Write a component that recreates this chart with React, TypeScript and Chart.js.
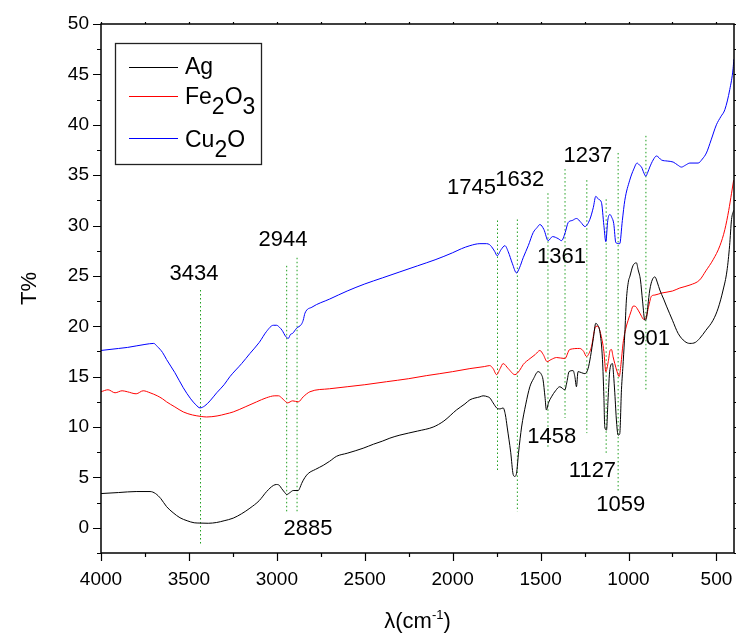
import { useEffect, useRef } from "react";
import { Chart, registerables } from "chart.js";

Chart.register(...registerables);

// FTIR spectra as [wavenumber (cm^-1), transmittance (%)]
const agSpectrum = [
  [4000, 3.4], [3900, 3.5], [3800, 3.6], [3721, 3.6], [3690, 3.4], [3660, 2.9], [3627, 2.1], [3590, 1.5],
  [3551, 1.0], [3510, 0.7], [3470, 0.5], [3437, 0.47], [3390, 0.45], [3342, 0.53], [3300, 0.7], [3248, 0.96],
  [3200, 1.4], [3153, 1.95], [3100, 2.7], [3058, 3.6], [3020, 4.2], [3001, 4.3], [2985, 4.2], [2973, 3.9],
  [2955, 3.5], [2944, 3.3], [2925, 3.5], [2907, 3.7], [2878, 3.7], [2868, 4.0], [2859, 4.4], [2840, 5.0],
  [2821, 5.4], [2780, 5.8], [2736, 6.2], [2700, 6.6], [2660, 7.1], [2600, 7.4], [2509, 7.9], [2450, 8.3],
  [2400, 8.6], [2357, 8.9], [2300, 9.2], [2200, 9.6], [2111, 10.0], [2050, 10.6], [1978, 11.7], [1930, 12.3],
  [1902, 12.7], [1845, 13.0], [1827, 13.1], [1800, 13.0], [1789, 12.9], [1770, 12.4], [1750, 11.9], [1730, 11.8],
  [1713, 11.9], [1700, 11.2], [1690, 10.0], [1670, 7.5], [1656, 5.3], [1647, 5.1], [1637, 5.4], [1625, 7.5],
  [1608, 10.0], [1585, 12.2], [1561, 14.0], [1540, 14.8], [1514, 15.5], [1495, 15.2], [1486, 14.7], [1475, 13.0],
  [1467, 11.7], [1455, 12.4], [1438, 13.0], [1415, 13.6], [1391, 14.0], [1362, 13.7], [1350, 14.5], [1338, 15.5],
  [1315, 15.6], [1305, 15.0], [1296, 14.0], [1287, 15.5], [1268, 15.4], [1248, 15.3], [1230, 15.8], [1216, 17.0],
  [1200, 18.8], [1186, 20.3], [1175, 20.1], [1163, 19.5], [1148, 16.7], [1140, 13.0], [1135, 10.0], [1125, 9.7],
  [1117, 12.5], [1106, 15.7], [1091, 16.3], [1085, 15.2], [1078, 13.4], [1068, 10.5], [1059, 9.2], [1050, 9.3],
  [1040, 13.7], [1030, 16.5], [1021, 19.3], [1012, 22.6], [1000, 24.5], [993, 24.9], [975, 26.0], [955, 26.3],
  [945, 25.6], [932, 24.6], [920, 22.5], [907, 20.6], [898, 20.8], [890, 22.0], [879, 23.6], [865, 24.6],
  [850, 24.9], [835, 24.3], [822, 23.6], [800, 22.7], [784, 22.0], [750, 20.6], [718, 19.3], [680, 18.5],
  [651, 18.3], [620, 18.4], [595, 18.8], [560, 19.6], [519, 20.6], [490, 21.8], [462, 23.6], [440, 25.5],
  [425, 28.0], [414, 30.6], [402, 31.5],
];

const fe2o3Spectrum = [
  [4000, 13.5], [3960, 13.7], [3920, 13.4], [3880, 13.6], [3850, 13.5], [3800, 13.3], [3760, 13.6], [3721, 13.4],
  [3680, 13.1], [3650, 12.8], [3627, 12.5], [3580, 12.0], [3532, 11.5], [3480, 11.2], [3430, 11.05], [3399, 11.0],
  [3340, 11.1], [3290, 11.3], [3248, 11.5], [3180, 12.0], [3115, 12.5], [3060, 12.9], [3011, 13.1], [2990, 13.1],
  [2973, 12.9], [2955, 12.6], [2939, 12.4], [2910, 12.6], [2878, 12.5], [2850, 13.0], [2812, 13.5], [2700, 13.8],
  [2600, 14.0], [2500, 14.2], [2376, 14.5], [2250, 14.8], [2150, 15.1], [2073, 15.3], [2000, 15.5], [1902, 15.8],
  [1820, 16.0], [1789, 16.1], [1770, 15.8], [1750, 15.2], [1730, 15.8], [1713, 16.3], [1684, 15.8], [1646, 15.2],
  [1620, 15.6], [1599, 16.2], [1560, 16.8], [1530, 17.2], [1504, 17.6], [1485, 17.2], [1463, 16.5], [1440, 16.7],
  [1409, 16.9], [1362, 16.8], [1334, 17.7], [1277, 17.8], [1255, 17.5], [1239, 17.0], [1225, 17.3], [1210, 18.0],
  [1195, 19.5], [1186, 20.0], [1175, 20.0], [1159, 19.3], [1140, 17.5], [1129, 15.5], [1115, 16.5], [1105, 17.6],
  [1097, 17.7], [1088, 17.0], [1078, 16.3], [1065, 15.5], [1053, 15.0], [1043, 16.2], [1031, 18.3], [1015, 19.8],
  [1002, 20.6], [985, 21.5], [974, 22.0], [964, 22.0], [945, 21.6], [926, 21.0], [915, 20.7], [902, 20.8],
  [885, 22.0], [869, 23.0], [850, 23.1], [812, 23.3], [750, 23.5], [708, 23.8], [650, 24.1], [595, 24.6],
  [560, 25.5], [519, 26.6], [480, 28.0], [452, 29.6], [430, 31.5], [414, 33.2], [402, 34.5],
];

const cu2oSpectrum = [
  [4000, 17.6], [3900, 17.8], [3850, 17.9], [3750, 18.2], [3700, 18.3], [3680, 18.0], [3650, 17.4], [3627, 16.7],
  [3580, 15.4], [3532, 13.9], [3490, 12.8], [3460, 12.2], [3437, 11.9], [3410, 12.1], [3380, 12.6], [3342, 13.4],
  [3300, 14.2], [3267, 15.0], [3200, 16.3], [3153, 17.3], [3100, 18.4], [3058, 19.5], [3020, 20.1], [3001, 20.1],
  [2985, 19.9], [2970, 19.6], [2950, 19.0], [2935, 18.8], [2922, 19.2], [2910, 19.3], [2888, 19.8], [2860, 20.2],
  [2850, 20.6], [2840, 21.3], [2800, 21.9], [2700, 22.7], [2600, 23.5], [2500, 24.2], [2400, 24.8], [2300, 25.4],
  [2200, 26.0], [2100, 26.6], [2000, 27.3], [1950, 27.7], [1902, 28.0], [1845, 28.2], [1807, 28.2], [1790, 28.1],
  [1779, 27.9], [1760, 27.4], [1747, 27.0], [1725, 27.6], [1703, 28.0], [1684, 27.4], [1660, 26.2], [1637, 25.3],
  [1620, 25.8], [1599, 26.8], [1570, 28.0], [1542, 29.3], [1520, 29.8], [1504, 30.1], [1481, 29.6], [1457, 28.5],
  [1432, 28.9], [1400, 28.7], [1381, 28.5], [1360, 29.3], [1343, 30.3], [1320, 30.5], [1296, 30.7], [1270, 30.3],
  [1248, 29.9], [1220, 30.6], [1200, 31.8], [1186, 32.9], [1170, 32.6], [1154, 32.3], [1140, 30.0], [1129, 28.4],
  [1118, 30.5], [1106, 31.1], [1095, 30.8], [1084, 30.2], [1072, 28.3], [1050, 28.2], [1035, 30.5], [1021, 32.5],
  [993, 34.5], [970, 35.6], [951, 36.2], [938, 36.0], [926, 35.8], [912, 35.2], [902, 34.9], [890, 35.3],
  [879, 35.8], [860, 36.5], [841, 36.9], [812, 36.5], [780, 36.4], [746, 36.3], [720, 36.0], [699, 35.8],
  [675, 36.0], [651, 36.2], [604, 36.2], [580, 36.6], [557, 37.2], [530, 38.5], [500, 40.0], [475, 40.8],
  [452, 41.5], [424, 43.5], [405, 45.6], [401, 46.5],
];

// Assigned bands
const peakLabels = ["3434", "2944", "2885", "1745", "1632", "1458", "1361", "1237", "1127", "1059", "901"];
const peakWavenumbers = [3434, 2944, 2885, 1745, 1632, 1458, 1361, 1237, 1127, 1059, 901];
// vertical extent of each marker line (T%)
const markerTop = [23.6, 26.0, 26.8, 30.5, 30.6, 33.2, 35.6, 34.5, 32.6, 37.2, 38.9];
const markerBottom = [-1.6, 1.5, 1.6, 5.5, 1.6, 8.0, 10.9, 9.4, 7.4, 3.5, 13.7];
// text anchor of each label (wavenumber, T%)
const labelX = [3471, 2965, 2823, 1893, 1618, 1436, 1381, 1231, 1205, 1044, 869];
const labelY = [25.2, 28.6, -0.1, 33.7, 34.5, 9.0, 26.9, 36.9, 5.6, 2.3, 18.75];

const seriesNames = ["Ag", "Fe2O3", "Cu2O"];
const seriesColors = ["#000000", "#ff0000", "#0000ff"];

const FONT = "'Liberation Sans', Arial, Helvetica, sans-serif";

const toPoints = (pairs: number[][]) => pairs.map(([x, y]) => ({ x, y }));

// split a formula such as Fe2O3 into plain / subscript runs
const formulaRuns = (s: string) => {
  const runs: { t: string; sub: boolean }[] = [];
  for (const ch of s) {
    const sub = /[0-9]/.test(ch);
    const last = runs[runs.length - 1];
    if (last && last.sub === sub) last.t += ch;
    else runs.push({ t: ch, sub });
  }
  return runs;
};

const framePlugin = {
  id: "frame",
  afterDraw(chart: any) {
    const { ctx, chartArea: a, scales } = chart;
    const x = scales.x;
    const y = scales.y;
    ctx.save();
    ctx.strokeStyle = "#000";
    ctx.lineWidth = 1.5;
    ctx.strokeRect(a.left, a.top, a.right - a.left, a.bottom - a.top);
    ctx.lineWidth = 1.2;
    ctx.beginPath();
    for (const t of x.ticks) {
      const px = Math.round(x.getPixelForValue(t.value)) + 0.5;
      const major = t.value % 500 === 0;
      ctx.moveTo(px, a.bottom);
      ctx.lineTo(px, a.bottom + (major ? 8 : 4));
      ctx.moveTo(px, a.top);
      ctx.lineTo(px, a.top - 2);
    }
    for (const t of y.ticks) {
      const py = Math.round(y.getPixelForValue(t.value)) + 0.5;
      const major = t.value % 5 === 0;
      ctx.moveTo(a.left, py);
      ctx.lineTo(a.left - (major ? 8 : 4), py);
      ctx.moveTo(a.right, py);
      ctx.lineTo(a.right + 2, py);
    }
    ctx.stroke();

    // axis titles
    ctx.fillStyle = "#000";
    ctx.font = `22px ${FONT}`;
    ctx.textAlign = "center";
    ctx.textBaseline = "middle";
    ctx.save();
    ctx.translate(30, (a.top + a.bottom) / 2);
    ctx.rotate(-Math.PI / 2);
    ctx.fillText("T%", 0, 0);
    ctx.restore();

    const cx = (a.left + a.right) / 2;
    const base = 628;
    ctx.textBaseline = "alphabetic";
    ctx.textAlign = "left";
    const main1 = "λ(cm";
    const sup = "-1";
    const main2 = ")";
    ctx.font = `22px ${FONT}`;
    const w1 = ctx.measureText(main1).width;
    const w3 = ctx.measureText(main2).width;
    ctx.font = `13px ${FONT}`;
    const w2 = ctx.measureText(sup).width;
    let sx = cx - (w1 + w2 + w3) / 2;
    ctx.font = `22px ${FONT}`;
    ctx.fillText(main1, sx, base);
    sx += w1;
    ctx.font = `13px ${FONT}`;
    ctx.fillText(sup, sx, base - 9);
    sx += w2;
    ctx.font = `22px ${FONT}`;
    ctx.fillText(main2, sx, base);
    ctx.restore();
  },
};

const peakLabelPlugin = {
  id: "peakLabels",
  afterDatasetsDraw(chart: any) {
    const { ctx, scales } = chart;
    ctx.save();
    ctx.fillStyle = "#000";
    ctx.font = `22px ${FONT}`;
    ctx.textAlign = "center";
    ctx.textBaseline = "middle";
    peakLabels.forEach((txt, i) => {
      ctx.fillText(txt, scales.x.getPixelForValue(labelX[i]), scales.y.getPixelForValue(labelY[i]));
    });
    ctx.restore();
  },
};

const legendPlugin = {
  id: "boxLegend",
  afterDraw(chart: any) {
    const { ctx } = chart;
    ctx.save();
    ctx.strokeStyle = "#222";
    ctx.lineWidth = 1.3;
    ctx.strokeRect(115.5, 43.5, 146, 121);
    const lineY = [67, 96, 138];
    const baseY = [74, 104, 147];
    seriesNames.forEach((name, i) => {
      ctx.strokeStyle = seriesColors[i];
      ctx.lineWidth = 1;
      ctx.beginPath();
      ctx.moveTo(129, lineY[i] + 0.5);
      ctx.lineTo(178, lineY[i] + 0.5);
      ctx.stroke();
      ctx.fillStyle = "#000";
      ctx.font = `23px ${FONT}`;
      ctx.textAlign = "left";
      ctx.textBaseline = "alphabetic";
      let x = 185;
      for (const r of formulaRuns(name)) {
        ctx.fillText(r.t, x, baseY[i] + (r.sub ? 10 : 0));
        x += ctx.measureText(r.t).width;
      }
    });
    ctx.restore();
  },
};

export default function App() {
  const canvasRef = useRef<HTMLCanvasElement | null>(null);

  useEffect(() => {
    const canvas = canvasRef.current;
    if (!canvas) return;

    const spectra = [agSpectrum, fe2o3Spectrum, cu2oSpectrum].map((s, i) => ({
      label: seriesNames[i],
      data: toPoints(s),
      borderColor: seriesColors[i],
      borderWidth: 1,
      pointRadius: 0,
      cubicInterpolationMode: "monotone",
      fill: false,
    }));

    const markers = peakWavenumbers.map((wn, i) => ({
      label: peakLabels[i],
      data: [
        { x: wn, y: markerTop[i] },
        { x: wn, y: markerBottom[i] },
      ],
      borderColor: "#1e9e1e",
      borderWidth: 1,
      borderDash: [1.5, 2.5],
      pointRadius: 0,
      fill: false,
    }));

    const chart = new Chart(canvas, {
      type: "line",
      data: { datasets: [...spectra, ...markers] as any },
      options: {
        animation: false,
        responsive: false,
        events: [],
        layout: { padding: { top: 24, right: 2, left: 0, bottom: 0 } },
        plugins: { legend: { display: false }, tooltip: { enabled: false } },
        scales: {
          x: {
            type: "linear",
            reverse: true,
            min: 400,
            max: 4000,
            border: { display: false },
            grid: { display: false, drawTicks: false },
            afterBuildTicks: (scale: any) => {
              const ticks = [];
              for (let v = 500; v <= 4000; v += 250) ticks.push({ value: v });
              scale.ticks = ticks;
            },
            afterFit: (scale: any) => {
              scale.height = 81;
            },
            ticks: {
              autoSkip: false,
              maxRotation: 0,
              padding: 15,
              color: "#000",
              font: { family: FONT, size: 19 },
              callback: (v: any) => (Number(v) % 500 === 0 ? String(v) : ""),
            },
          },
          y: {
            type: "linear",
            min: -2.5,
            max: 50,
            border: { display: false },
            grid: { display: false, drawTicks: false },
            afterBuildTicks: (scale: any) => {
              const ticks = [];
              for (let v = -2.5; v <= 50; v += 2.5) ticks.push({ value: v });
              scale.ticks = ticks;
            },
            afterFit: (scale: any) => {
              scale.width = 101;
            },
            ticks: {
              autoSkip: false,
              padding: 12,
              color: "#000",
              font: { family: FONT, size: 19 },
              callback: (v: any) => (Number(v) % 5 === 0 ? String(v) : ""),
            },
          },
        },
      },
      plugins: [framePlugin, peakLabelPlugin, legendPlugin],
    });

    return () => chart.destroy();
  }, []);

  return (
    <div style={{ position: "fixed", left: 0, top: 0, width: 736, height: 634, background: "#fff" }}>
      <canvas ref={canvasRef} width={736} height={634} style={{ display: "block" }} />
    </div>
  );
}
